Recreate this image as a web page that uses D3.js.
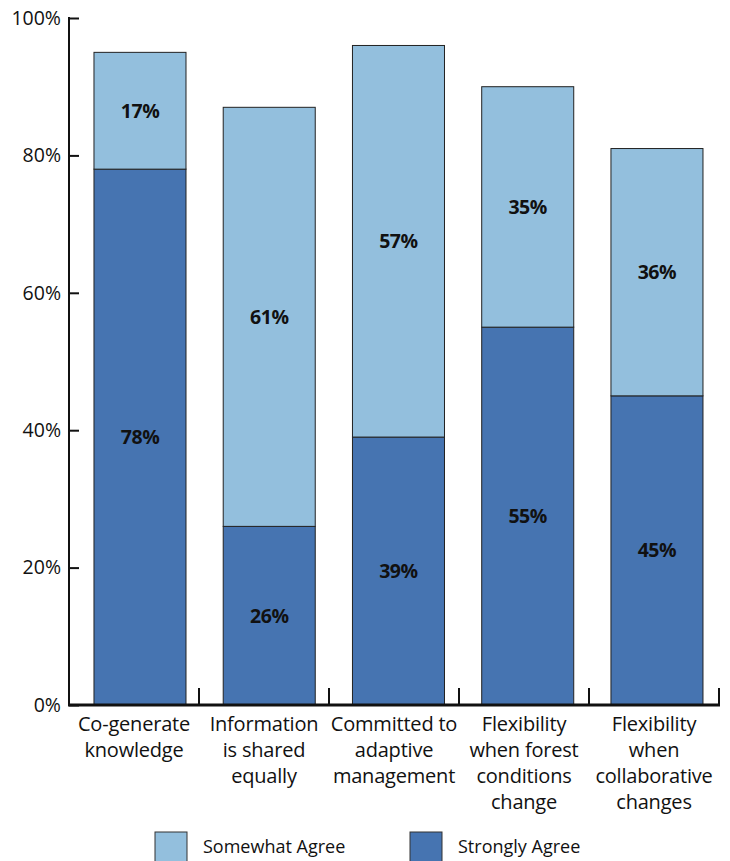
<!DOCTYPE html>
<html>
<head>
<meta charset="utf-8">
<script src="https://cdn.jsdelivr.net/npm/d3@7"></script>
<style>
  html, body { margin: 0; padding: 0; background: #fff; }
  svg { display: block; font-family: "Open Sans", Lato, sans-serif; }
</style>
</head>
<body>
<svg id="chart" width="730" height="861"></svg>
<script>
// Survey categories (multi-line labels)
const categories = [
  "Co-generate knowledge",
  "Information is shared equally",
  "Committed to adaptive management",
  "Flexibility when forest conditions change",
  "Flexibility when collaborative changes"
];
const categoryLines = [
  ["Co-generate", "knowledge"],
  ["Information", "is shared", "equally"],
  ["Committed to", "adaptive", "management"],
  ["Flexibility", "when forest", "conditions", "change"],
  ["Flexibility", "when", "collaborative", "changes"]
];
const stronglyAgree = [78, 26, 39, 55, 45];
const somewhatAgree = [17, 61, 57, 35, 36];
const yTicks = [0, 20, 40, 60, 80, 100];
const seriesNames = ["Somewhat Agree", "Strongly Agree"];
const colors = { strong: "#4674b1", somewhat: "#93bfdd" };

const svg = d3.select("#chart");

const x0 = 69, x1 = 719, yTop = 18, yBottom = 705;

// Category bands (axis ticks sit on band boundaries)
const x = d3.scaleBand().domain(categories).range([x0, x1]);
// Bars: 92px wide, slightly right of band centre
const xBar = d3.scaleBand().domain(categories)
  .range([56.75, 740.2]).paddingInner(0.288).paddingOuter(0.288);
const y = d3.scaleLinear().domain([0, 100]).range([yBottom, yTop]);

const rows = categories.map((c, i) => ({
  cat: c, lines: categoryLines[i], strong: stronglyAgree[i], some: somewhatAgree[i]
}));

// Bars
const g = svg.append("g");
g.selectAll("rect.strong").data(rows).join("rect")
  .attr("class", "strong")
  .attr("x", d => xBar(d.cat))
  .attr("width", xBar.bandwidth())
  .attr("y", d => y(d.strong))
  .attr("height", d => y(0) - y(d.strong))
  .attr("fill", colors.strong)
  .attr("stroke", "#222").attr("stroke-width", 1);

g.selectAll("rect.some").data(rows).join("rect")
  .attr("class", "some")
  .attr("x", d => xBar(d.cat))
  .attr("width", xBar.bandwidth())
  .attr("y", d => y(d.strong + d.some))
  .attr("height", d => y(d.strong) - y(d.strong + d.some))
  .attr("fill", colors.somewhat)
  .attr("stroke", "#222").attr("stroke-width", 1);

// Value labels, centred in each segment
const valueLabel = (sel, val, mid) => sel
  .attr("x", d => xBar(d.cat) + xBar.bandwidth() / 2)
  .attr("y", d => y(mid(d)))
  .attr("dy", "0.35em")
  .attr("text-anchor", "middle")
  .attr("font-size", 19.5).attr("font-weight", 700).attr("fill", "#111")
  .attr("letter-spacing", -0.4)
  .text(d => val(d) + "%");

g.selectAll("text.vs").data(rows).join("text").attr("class", "vs")
  .call(valueLabel, d => d.strong, d => d.strong / 2);
g.selectAll("text.vm").data(rows).join("text").attr("class", "vm")
  .call(valueLabel, d => d.some, d => d.strong + d.some / 2);

// Y axis
const yAxis = d3.axisRight(y).tickValues(yTicks).tickSize(10).tickFormat("");
const ya = svg.append("g").attr("transform", `translate(${x0},0)`).call(yAxis);
ya.select(".domain").remove();
ya.selectAll(".tick line").attr("stroke", "#111").attr("stroke-width", 2);
svg.append("line").attr("x1", x0).attr("x2", x0).attr("y1", y(100) - 1).attr("y2", yBottom)
  .attr("stroke", "#111").attr("stroke-width", 2);
svg.selectAll("text.yl").data(yTicks).join("text").attr("class", "yl")
  .attr("x", 61).attr("y", d => y(d)).attr("dy", "0.35em")
  .attr("text-anchor", "end").attr("font-size", 19.5).attr("fill", "#111")
  .text(d => d + "%");

// X axis baseline and boundary ticks
svg.append("line").attr("x1", x0 - 1).attr("x2", x1 + 1).attr("y1", yBottom).attr("y2", yBottom)
  .attr("stroke", "#111").attr("stroke-width", 3);
const bounds = categories.map(c => x(c)).concat([x1]);
svg.selectAll("line.xt").data(bounds).join("line").attr("class", "xt")
  .attr("x1", d => d).attr("x2", d => d)
  .attr("y1", yBottom).attr("y2", yBottom - 17)
  .attr("stroke", "#111").attr("stroke-width", 2);

// Category labels
svg.selectAll("text.cl").data(rows).join("text").attr("class", "cl")
  .attr("text-anchor", "middle").attr("font-size", 20).attr("fill", "#111")
  .attr("letter-spacing", -0.2)
  .each(function(d) {
    const t = d3.select(this);
    d.lines.forEach((ln, k) => {
      t.append("tspan")
        .attr("x", x(d.cat) + x.bandwidth() / 2)
        .attr("y", 731 + k * 26)
        .text(ln);
    });
  });

// Legend
const legend = svg.append("g");
const legendX = [155, 410];
seriesNames.forEach((name, i) => {
  legend.append("rect")
    .attr("x", legendX[i]).attr("y", 832).attr("width", 32).attr("height", 34)
    .attr("fill", i === 0 ? colors.somewhat : colors.strong)
    .attr("stroke", "#333").attr("stroke-width", 1);
  legend.append("text")
    .attr("x", legendX[i] + 48).attr("y", 853)
    .attr("font-size", 18).attr("fill", "#111")
    .text(name);
});
</script>
</body>
</html>
